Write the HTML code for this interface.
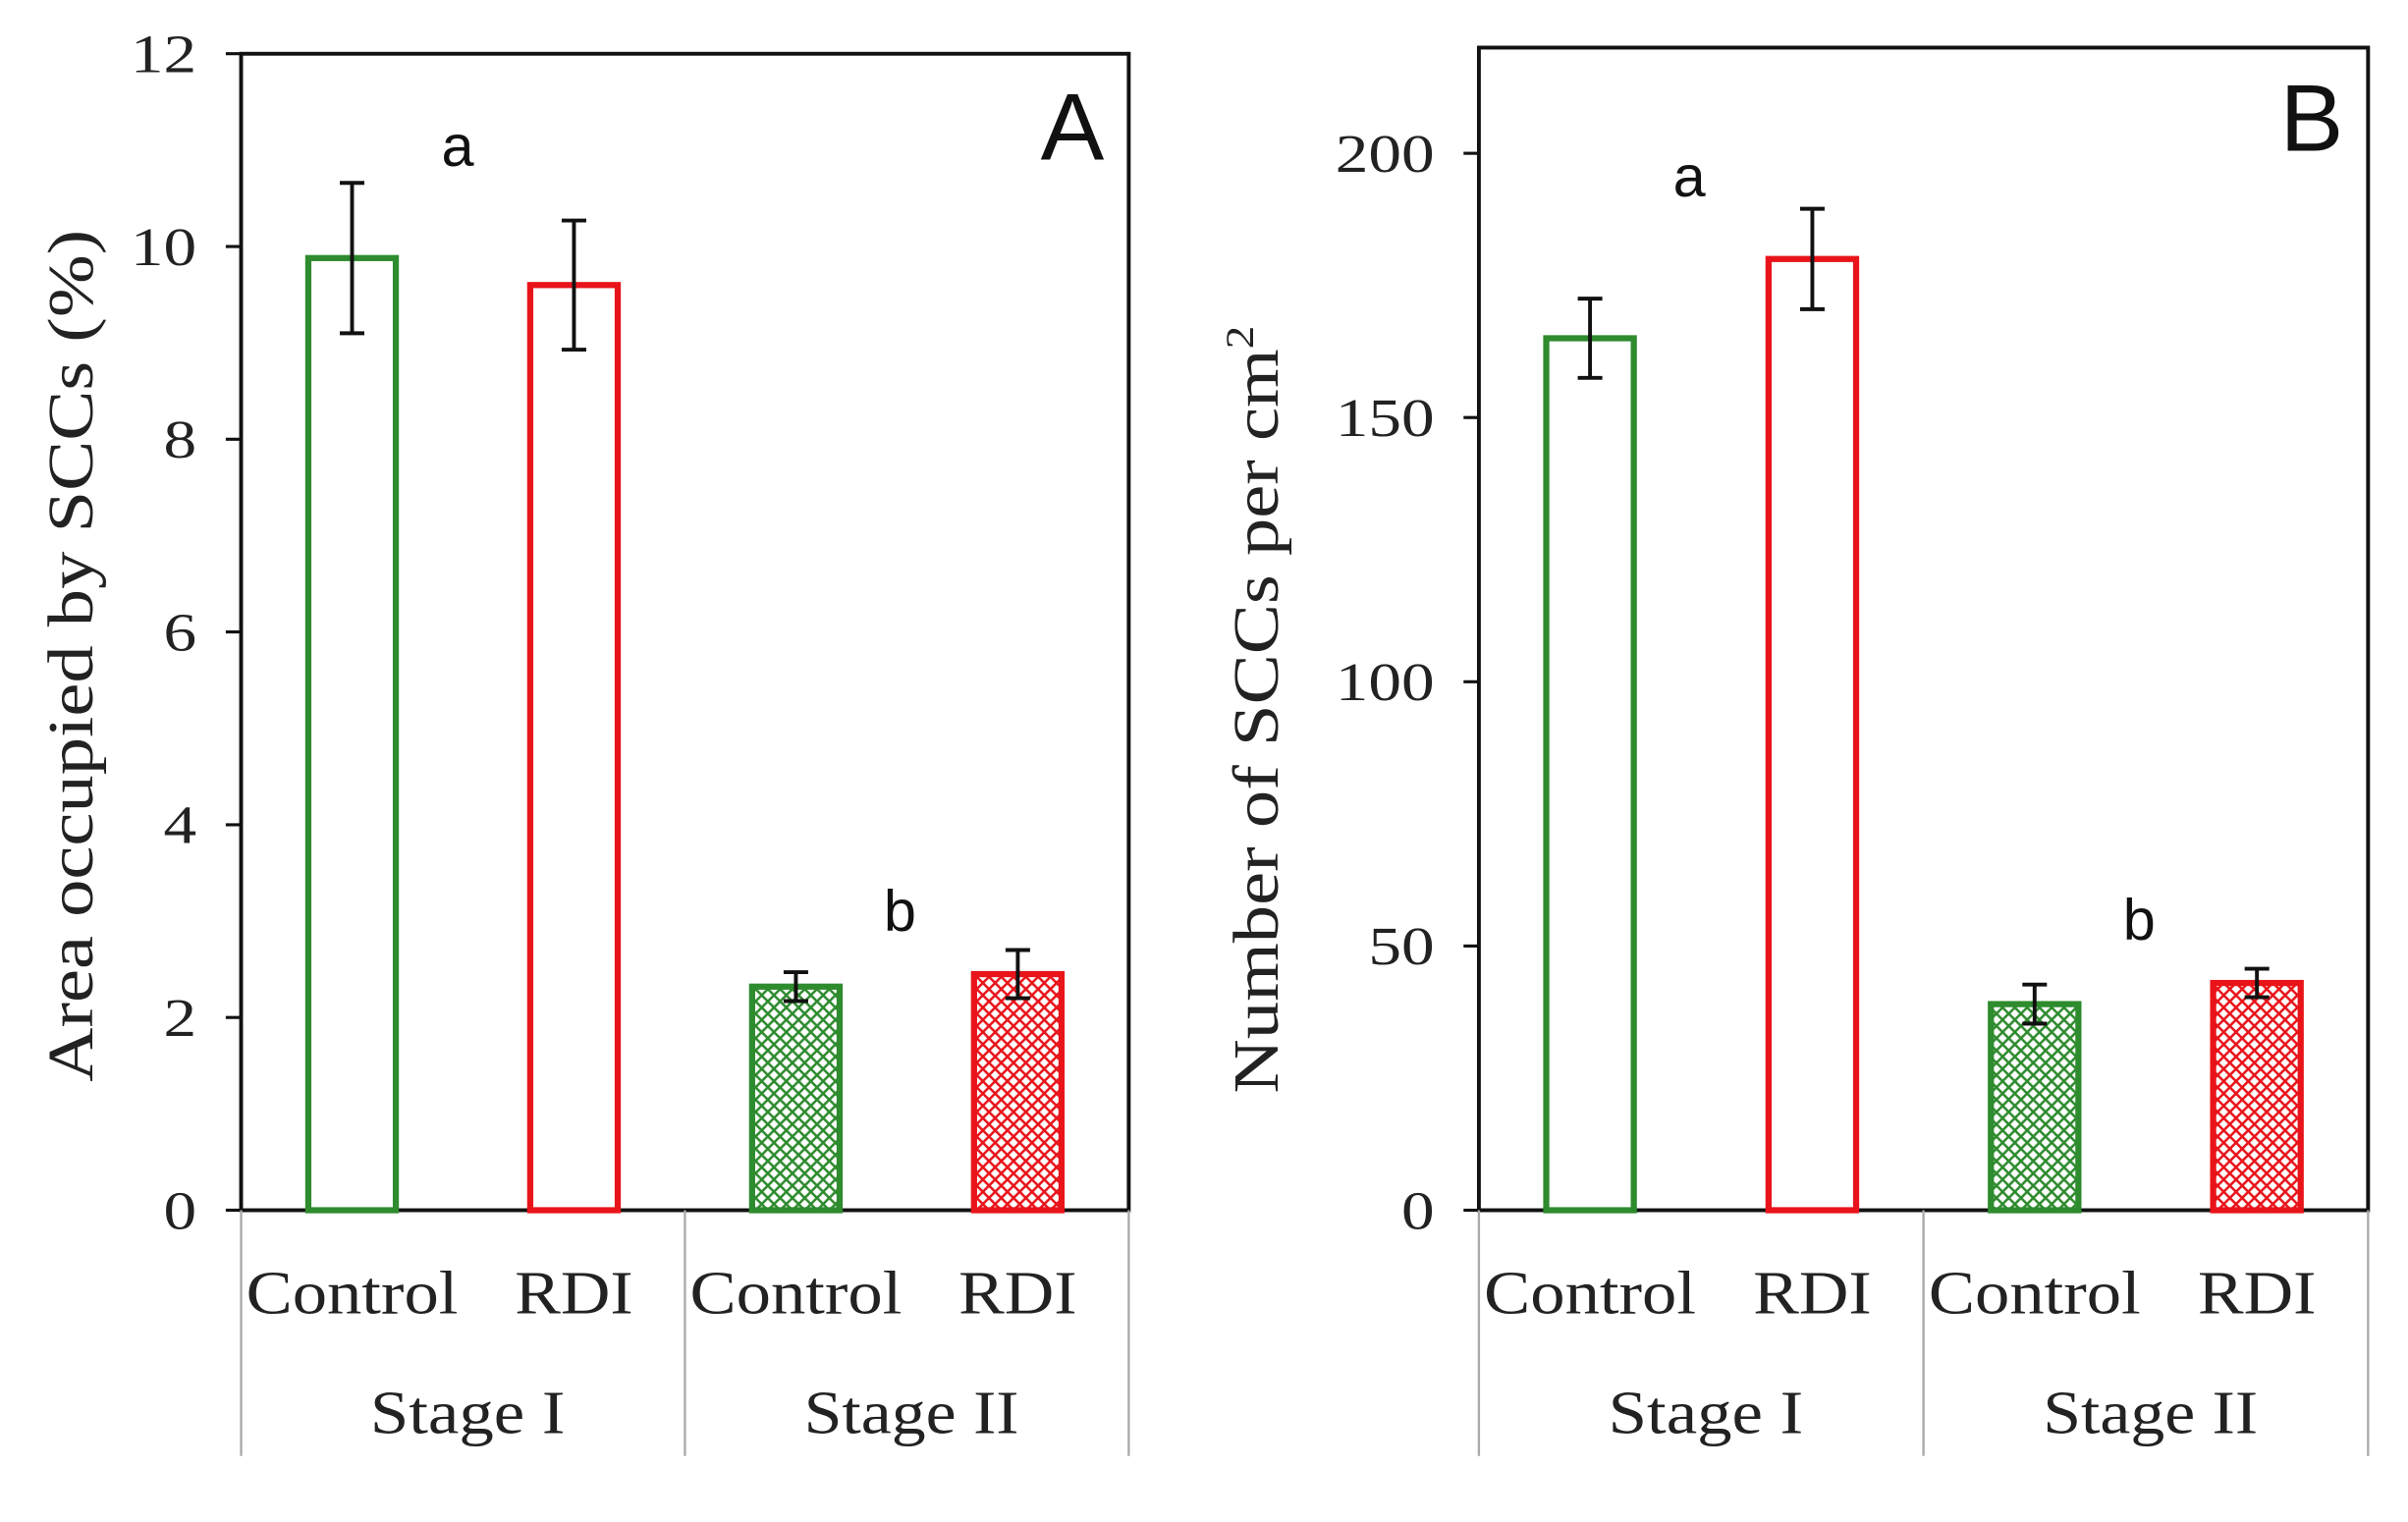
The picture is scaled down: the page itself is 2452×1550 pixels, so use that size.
<!DOCTYPE html>
<html><head><meta charset="utf-8"><style>
html,body{margin:0;padding:0;background:#fff;}
svg{display:block;}
.tick{font-family:"Liberation Serif",serif;font-size:35px;fill:#222;}
.cat{font-family:"Liberation Serif",serif;font-size:40px;fill:#222;}
.ylab{font-family:"Liberation Serif",serif;font-size:42px;fill:#222;}
.let{font-family:"Liberation Sans",sans-serif;font-size:38px;fill:#111;}
.pan{font-family:"Liberation Sans",sans-serif;font-size:62px;fill:#111;}
</style></head><body>
<svg id="chart" width="2452" height="1550" viewBox="0 0 1568 991" preserveAspectRatio="none" xmlns="http://www.w3.org/2000/svg">
<defs>
<pattern id="hg" width="8" height="8" patternUnits="userSpaceOnUse">
<rect width="8" height="8" fill="#fff"/>
<path d="M0,0 L8,8 M8,0 L0,8" stroke="#2e8b2e" stroke-width="1.6"/>
</pattern>
<pattern id="hr" width="8" height="8" patternUnits="userSpaceOnUse">
<rect width="8" height="8" fill="#fff"/>
<path d="M0,0 L8,8 M8,0 L0,8" stroke="#e8141a" stroke-width="1.6"/>
</pattern>
</defs>
<g id="gA"></g>
<g id="gB"></g>
</svg>
<script>
const categories = ["Control","RDI","Control","RDI"];
const stages = ["Stage I","Stage II"];
const valuesA = [9.88, 9.6, 2.32, 2.45];
const errorsA = [0.78, 0.67, 0.15, 0.25];
const ticksA = [0,2,4,6,8,10,12];
const valuesB = [165, 180, 39, 43];
const errorsB = [7.5, 9.5, 3.7, 2.7];
const ticksB = [0,50,100,150,200];
const lettersA = ["a","b"];
const lettersB = ["a","b"];

const NS="http://www.w3.org/2000/svg";
function mk(g,tag,attrs,text){const e=document.createElementNS(NS,tag);for(const k in attrs)e.setAttribute(k,attrs[k]);if(text!==undefined)e.textContent=text;g.appendChild(e);return e;}
const catW={"Control":138,"RDI":77};
const stW={"Stage I":127,"Stage II":140};

function panel(g,cfg){
  const {L,R,T,B,max,vals,errs,ticks,letters,letterPos,panelLabel,ylabX}=cfg;
  const y=v=>B-(v/max)*(B-T);
  const slotW=(R-L)/4;
  const xc=i=>L+slotW*(i+0.5);
  const bw=57;
  let e=mk(g,'rect',{x:L,y:T,width:R-L,height:B-T,fill:'none',stroke:'#111','stroke-width':2.5});
  
  ticks.forEach(t=>{
    let l=mk(g,'line',{x1:L-10,x2:L,y1:y(t),y2:y(t),stroke:'#111','stroke-width':2});
    
    const s=String(t);
    let tx=mk(g,'text',{x:L-29,y:y(t)+12,'text-anchor':'end',class:'tick',textLength:s.length*21.5,lengthAdjust:'spacingAndGlyphs'},s);
    
  });
  const cols=['#2e8b2e','#e8141a','#2e8b2e','#e8141a'];
  const fills=['#fff','#fff','url(#hg)','url(#hr)'];
  vals.forEach((v,i)=>{
    let r=mk(g,'rect',{x:xc(i)-bw/2,y:y(v),width:bw,height:B-y(v),fill:fills[i],stroke:cols[i],'stroke-width':4});
    
    
    const hi=y(v+errs[i]),lo=y(v-errs[i]);
    let eb=mk(g,'path',{d:`M${xc(i)},${hi}V${lo}M${xc(i)-8},${hi}H${xc(i)+8}M${xc(i)-8},${lo}H${xc(i)+8}`,stroke:'#111','stroke-width':2.5,fill:'none'});
    
    let ct=mk(g,'text',{x:xc(i),y:855,'text-anchor':'middle',class:'cat',textLength:catW[categories[i]],lengthAdjust:'spacingAndGlyphs'},categories[i]);
    
  });
  [0,2,4].forEach(k=>{
    let l=mk(g,'line',{x1:L+slotW*k,x2:L+slotW*k,y1:B,y2:948,stroke:'#aaa','stroke-width':1.5});
    
  });
  stages.forEach((s,j)=>{
    let st=mk(g,'text',{x:L+slotW*(2*j+1)+3,y:933,'text-anchor':'middle',class:'cat',textLength:stW[s],lengthAdjust:'spacingAndGlyphs'},s);
    
  });
  letters.forEach((s,j)=>{
    let lt=mk(g,'text',{x:letterPos[j][0],y:letterPos[j][1],'text-anchor':'middle',class:'let'},s);
    
  });
  let pl=mk(g,'text',{x:R-16,y:cfg.panY,'text-anchor':'end',class:'pan'},panelLabel);
  
  const cy=cfg.ylabY;
  let yl=mk(g,'text',{x:ylabX,y:cy,'text-anchor':'middle',class:'ylab',textLength:cfg.ylabLen,lengthAdjust:'spacingAndGlyphs',transform:`rotate(-90 ${ylabX} ${cy})`});
  
  return yl;
}
const ylA=panel(document.getElementById('gA'),{L:157,R:735,T:35,B:788,max:12,vals:valuesA,errs:errorsA,ticks:ticksA,letters:lettersA,letterPos:[[298,108],[586,606]],panelLabel:'A',panY:104,ylabX:60,ylabY:427,ylabLen:555});
ylA.textContent='Area occupied by SCCs (%)';
const ylB=panel(document.getElementById('gB'),{L:963,R:1542,T:31,B:788,max:220,vals:valuesB,errs:errorsB,ticks:ticksB,letters:lettersB,letterPos:[[1100,128],[1393,612]],panelLabel:'B',panY:98,ylabX:832,ylabY:462,ylabLen:500});
ylB.textContent='Number of  SCCs per cm';
const sup=document.createElementNS(NS,'tspan');sup.setAttribute('dy','-16');sup.setAttribute('font-size','26');sup.textContent='2';ylB.appendChild(sup);
</script>
</body></html>
